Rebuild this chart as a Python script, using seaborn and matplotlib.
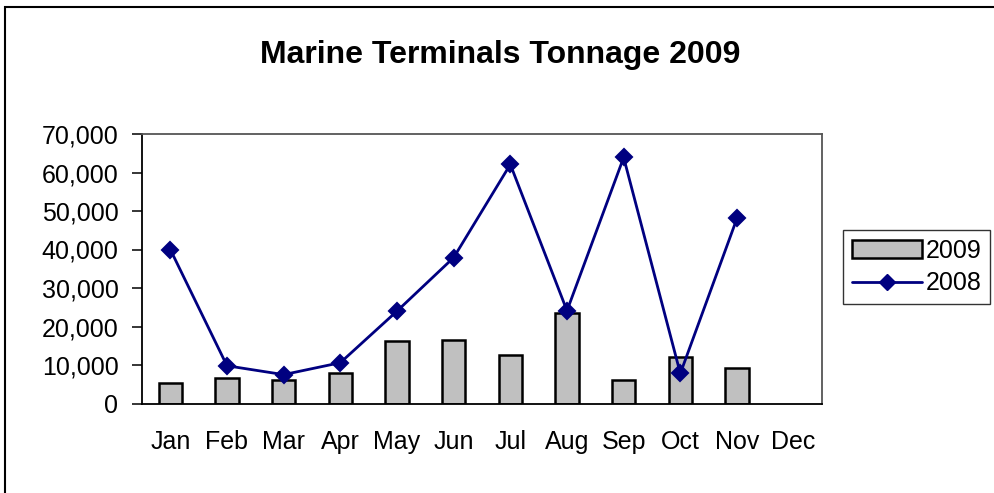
import numpy as np
import pandas as pd
import matplotlib
matplotlib.use("Agg")
import matplotlib.pyplot as plt
import seaborn as sns
from matplotlib.ticker import FuncFormatter, FixedLocator
from matplotlib.patches import Patch, Rectangle
from matplotlib.lines import Line2D

months = ["Jan", "Feb", "Mar", "Apr", "May", "Jun", "Jul", "Aug", "Sep", "Oct", "Nov", "Dec"]
tons_2009 = [5200, 6700, 6100, 8000, 16200, 16400, 12700, 23600, 6100, 12000, 9200, np.nan]
tons_2008 = [40000, 9800, 7500, 10600, 24000, 37900, 62100, 24100, 63900, 7800, 48100, np.nan]
y_ticks = [0, 10000, 20000, 30000, 40000, 50000, 60000, 70000]
title = "Marine Terminals Tonnage 2009"

sns.set_style("white")
plt.rcParams["font.family"] = ["Liberation Sans", "DejaVu Sans"]
plt.rcParams["text.color"] = "black"
plt.rcParams["xtick.color"] = "black"
plt.rcParams["ytick.color"] = "black"
plt.rcParams["axes.labelcolor"] = "black"

df = pd.DataFrame({"month": months, "2009": tons_2009, "2008": tons_2008})

fig = plt.figure(figsize=(9.95, 4.93), dpi=100)
ax = fig.add_axes([142 / 995, 1 - 403.5 / 493, (822 - 142) / 995, (403.5 - 134) / 493])

sns.barplot(data=df, x="month", y="2009", order=months, color="#C0C0C0",
            edgecolor="black", linewidth=1.8, width=0.41, saturation=1, ax=ax)
sns.pointplot(data=df, x="month", y="2008", order=months, color="#000080",
              markers="D", markersize=8.5, linewidth=2.0, ax=ax)

ax.set_xlim(-0.5, 11.5)
ax.set_ylim(0, 70000)
ax.set_yticks(y_ticks)
ax.yaxis.set_major_formatter(FuncFormatter(lambda v, p: f"{v:,.0f}"))
ax.set_xlabel("")
ax.set_ylabel("")

ax.xaxis.set_minor_locator(FixedLocator(np.arange(-0.5, 12, 1.0)))
ax.tick_params(axis="x", which="major", length=0, pad=19, labelsize=18, labelcolor="black")
ax.tick_params(axis="x", which="minor", direction="inout", length=16, width=1.1, color="#333333")
ax.tick_params(axis="y", which="major", direction="out", length=7, width=1.1, pad=10,
               labelsize=18, left=True, color="black", labelcolor="black")

for s in ["left", "bottom"]:
    ax.spines[s].set_visible(True)
    ax.spines[s].set_color("black")
    ax.spines[s].set_linewidth(1.3)
for s in ["top", "right"]:
    ax.spines[s].set_visible(True)
    ax.spines[s].set_color("#555555")
    ax.spines[s].set_linewidth(1.3)

fig.text(500 / 995, 1 - 55 / 493, title, ha="center", va="center",
         fontsize=23, fontweight="bold", color="black")

handles = [Patch(facecolor="#C0C0C0", edgecolor="black", linewidth=1.8, label="2009"),
           Line2D([0], [0], color="#000080", marker="D", markersize=8.5, linewidth=2.0, label="2008")]
leg = fig.legend(handles=handles, loc="upper left",
                 bbox_to_anchor=(843 / 995, 1 - 230 / 493), fontsize=18,
                 frameon=True, fancybox=False, handlelength=2.8, handletextpad=0.15,
                 borderpad=0.35, labelspacing=0.35, borderaxespad=0)
leg.get_frame().set_edgecolor("black")
leg.get_frame().set_linewidth(1.0)
for t in leg.get_texts():
    t.set_color("black")

# outer chart border
fig.patches.append(Rectangle((5 / 995, -0.1), 1.2, 1 - 7 / 493 + 0.1, transform=fig.transFigure,
                             fill=False, edgecolor="black", linewidth=1.5))

fig.savefig("out.png", dpi=100)
